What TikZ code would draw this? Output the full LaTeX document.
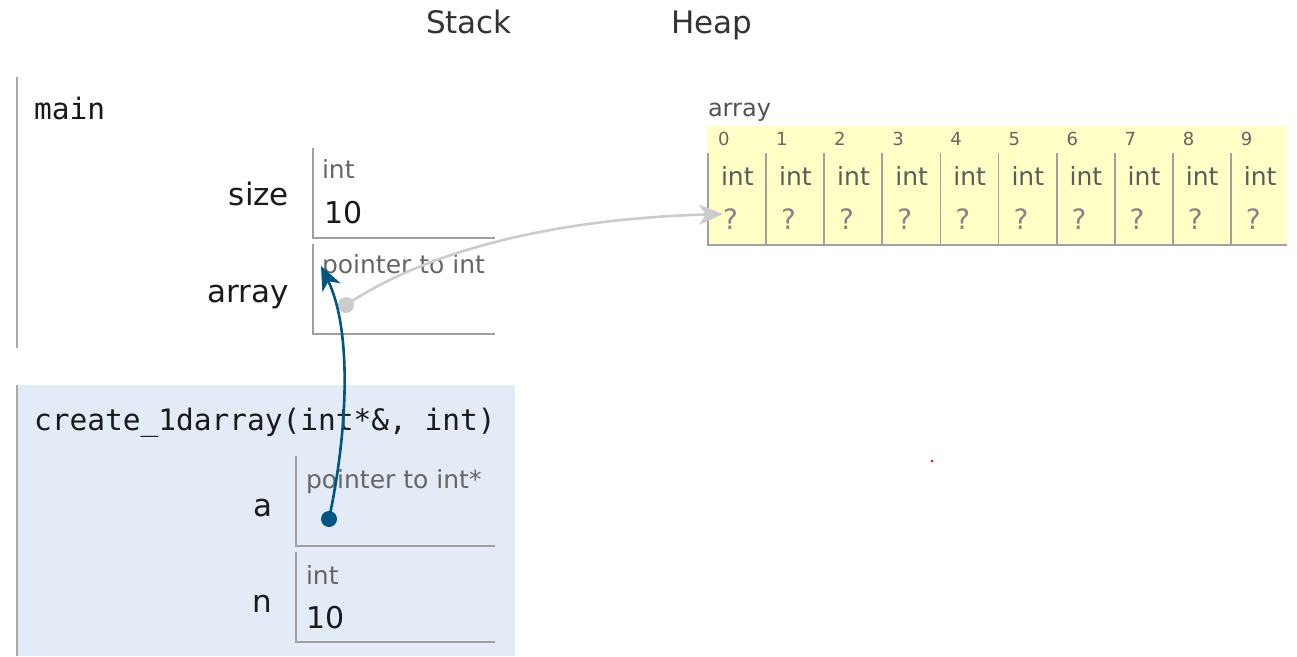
\documentclass[tikz,border=0pt]{standalone}
\usepackage{fontspec}
\setmainfont{DejaVu Sans}
\setmonofont{DejaVu Sans Mono}
\usetikzlibrary{arrows.meta}

\definecolor{framegray}{HTML}{AAAAAA}
\definecolor{boxgray}{HTML}{A0A0A0}
\definecolor{frameblue}{HTML}{E2EBF6}
\definecolor{heapyellow}{HTML}{FFFFC6}
\definecolor{ptrblue}{HTML}{005583}
\definecolor{ptrgray}{HTML}{CCCCCC}
\definecolor{typegray}{HTML}{666666}
\definecolor{txt}{HTML}{1A1A1A}

\begin{document}
\begin{tikzpicture}[x=1pt,y=-1pt,
  every node/.style={inner sep=0pt, outer sep=0pt},
  title/.style={font=\fontsize{31}{36}\selectfont, text=black!80, anchor=base},
  fname/.style={font=\ttfamily\fontsize{29.5}{34}\selectfont, text=txt, anchor=base west},
  varname/.style={font=\fontsize{31}{36}\selectfont, text=txt, anchor=base east},
  vtype/.style={font=\fontsize{25}{30}\selectfont, text=typegray, anchor=base west},
  vval/.style={font=\fontsize{30}{36}\selectfont, text=txt, anchor=base west},
  vbox/.style={minimum height=90pt, anchor=north west},
  boxline/.style={draw=boxgray, line width=1.8pt},
  frameline/.style={draw=framegray, line width=1.5pt},
  heaplabel/.style={font=\fontsize{24}{28}\selectfont, text=typegray!80!black, anchor=base west},
  idx/.style={font=\fontsize{18}{20}\selectfont, text=typegray, anchor=base west},
  celltype/.style={font=\fontsize{25}{28}\selectfont, text=typegray!90!black, anchor=base west},
  cellval/.style={font=\fontsize{28}{30}\selectfont, text=typegray!80, anchor=base west},
  ptrdot/.style={circle, minimum size=16pt},
  ptrarrow/.style={line width=2.6pt, -{Stealth[length=24pt, width=20pt, inset=7pt]}},
]
\useasboundingbox (0,0) rectangle (1297,656);

% headings
\node[title] (stackhead) at (469,33) {Stack};
\node[title] (heaphead) at (712,33) {Heap};

% frame: main
\draw[frameline] (17,77) -- (17,348);
\node[fname] (mainname) at (34,119) {main};

\node[vbox, minimum width=182pt] (sizebox) at (313,148) {};
\draw[boxline] (sizebox.north west) -- (sizebox.south west) -- (sizebox.south east);
\node[varname] (sizelbl) at (289,205) {size};
\node[vtype] (sizetype) at (322,178) {int};
\node[vval] (sizeval) at (324,223) {10};

\node[vbox, minimum width=182pt] (arraybox) at (313,244) {};
\draw[boxline] (arraybox.north west) -- (arraybox.south west) -- (arraybox.south east);
\node[varname] (arraylbl) at (289,302) {array};
\node[vtype] (arraytype) at (322,273) {pointer to int};
\node[ptrdot, fill=ptrgray] (arraydot) at (346,305) {};
\coordinate (arraytip) at (321,266);

% frame: create_1darray (active)
\fill[frameblue] (17,385) rectangle (515,656);
\draw[frameline] (17,385) -- (17,656);
\node[fname] (createname) at (34,430) {create\_1darray(int*\&, int)};

\node[vbox, minimum width=199pt] (abox) at (296,456) {};
\draw[boxline] (abox.north west) -- (abox.south west) -- (abox.south east);
\node[varname] (albl) at (272,516) {a};
\node[vtype] (atype) at (306,488) {pointer to int*};
\node[ptrdot, fill=ptrblue] (adot) at (329,519) {};

\node[vbox, minimum width=199pt] (nbox) at (296,552) {};
\draw[boxline] (nbox.north west) -- (nbox.south west) -- (nbox.south east);
\node[varname] (nlbl) at (272,612) {n};
\node[vtype] (ntype) at (306,584) {int};
\node[vval] (nval) at (306,628) {10};

% heap object: array of 10 ints
\node[heaplabel] (heapname) at (708,116) {array};
\fill[heapyellow] (707,126) rectangle (1287,245);
\draw[boxline] (707,245) -- (1287,245);
\foreach \i in {0,...,9} {
  \pgfmathsetmacro{\cx}{708+58.1*\i}
  \draw[boxline] (\cx,153) -- (\cx,245);
  \node[idx] (idx\i) at (\cx+10,145) {\i};
  \node[celltype] (type\i) at (\cx+13,185) {int};
  \node[cellval] (val\i) at (\cx+15,229) {?};
}
\coordinate (celltip) at (723,214);

% pointers
\draw[ptrarrow, draw=ptrgray] (arraydot.center) .. controls (440,242) and (580,218) .. (celltip);
\draw[ptrarrow, draw=ptrblue] (adot.center) .. controls (348,430) and (352,330) .. (arraytip);

% stray marker
\fill[red] (932,461) circle (1.5pt);
\end{tikzpicture}
\end{document}
